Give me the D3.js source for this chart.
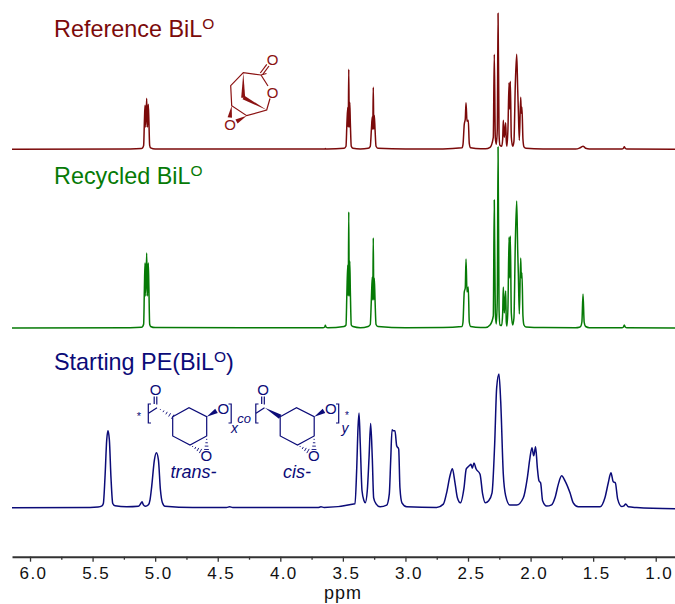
<!DOCTYPE html>
<html>
<head>
<meta charset="utf-8">
<script src="https://cdn.jsdelivr.net/npm/d3@7"></script>
<style>
    html, body { margin: 0; padding: 0; background: #fff; }
    svg { display: block; }
    text { font-family: "Liberation Sans", Arial, sans-serif; }
</style>
</head>
<body>
<div id="chart"></div>
<script>
// monomer spectra share one ppm grid, intensities
var monomerPpm = [6.144, 5.2, 5.11, 5.1, 5.092, 5.086, 5.081, 5.075, 5.068, 5.061, 5.055, 5.05, 5.044, 5.036, 5.0,
    3.66, 3.645, 3.64, 3.635, 3.62,
    3.49, 3.475, 3.468, 3.461, 3.457, 3.453, 3.449, 3.445, 3.44, 3.433, 3.42, 3.36,
    3.298, 3.281, 3.272, 3.265, 3.261, 3.257, 3.253, 3.249, 3.243, 3.235, 3.22, 3.0, 2.7,
    2.548, 2.54, 2.53, 2.522, 2.516, 2.508, 2.498, 2.49, 2.479, 2.4, 2.36,
    2.324, 2.298, 2.29, 2.282, 2.274, 2.266, 2.26, 2.252, 2.245, 2.231, 2.223, 2.218, 2.21, 2.199, 2.194, 2.189,
    2.181, 2.172, 2.167, 2.162, 2.154, 2.143, 2.133, 2.122, 2.111, 2.103, 2.098, 2.09, 2.079, 2.074, 2.069, 2.061,
    2.053, 2.037, 1.9, 1.64, 1.61, 1.6, 1.59, 1.581, 1.572, 1.56, 1.53,
    1.27, 1.258, 1.251, 1.244, 1.23, 0.846];

var referenceI = [0, 0.3, 0.7, 1.5, 4, 28, 44, 22, 51, 22, 45, 28, 4, 1.5, 0.4,
    0.2, 0.4, 0.7, 0.4, 0.2,
    1, 3, 25, 42, 22, 80, 22, 47, 25, 3, 1, 0.3,
    1, 3, 20, 32.6, 20, 62, 20, 34, 20, 3, 1, 0.3, 0.4,
    1.5, 5, 25, 30, 46.6, 28, 29, 6, 1.5, 0.5, 0.5,
    2, 12, 95, 12, 5, 20, 136, 15, 4, 3, 10, 29, 12, 26.6, 8, 3,
    20, 66.6, 40, 68, 12, 3, 8, 65, 95, 60, 40, 9, 52, 36, 42, 10,
    2.5, 1, 0.4, 0.3, 1.2, 1.8, 2.6, 3, 2.5, 1, 0.3,
    0.3, 1, 2.5, 1, 0.2, 0];

var recycledI = [0, 0.3, 0.7, 1.5, 4, 40, 65, 32, 75, 32, 65, 40, 4, 1.5, 0.4,
    0.2, 1, 2.8, 1, 0.2,
    1.5, 3, 35, 63, 32, 116, 32, 67, 35, 3, 1.5, 0.3,
    1.5, 3.5, 30, 51, 28, 90, 28, 50, 28, 3.5, 1.5, 0.3, 0.4,
    1.5, 6, 36, 40, 69, 36, 41, 6, 1.5, 0.5, 0.5,
    3, 12, 128, 15, 4, 30, 181, 18, 3, 2.5, 15, 41, 15, 37, 6, 2,
    20, 91, 50, 92, 15, 3, 10, 85, 127, 78, 55, 14, 70, 50, 55, 12,
    3, 1, 0.4, 0.3, 0.8, 1.5, 6, 34, 6, 1.5, 0.3,
    0.3, 1, 3, 1, 0.2, 0];

var polymerPpm = [6.144, 5.52, 5.457, 5.425, 5.414, 5.401, 5.387, 5.377, 5.366, 5.353, 5.339, 5.321, 5.227, 5.134,
    5.116, 5.105, 5.094, 5.078, 5.054, 5.041, 5.028, 5.006, 4.99, 4.974, 4.958, 4.942, 4.921, 4.7, 4.43, 4.405, 4.38,
    4.1, 3.7, 3.675, 3.65, 3.403, 3.39, 3.379, 3.371, 3.361, 3.347, 3.331, 3.321, 3.305, 3.291, 3.278, 3.265, 3.254,
    3.235, 3.203, 3.15, 3.129, 3.118, 3.107, 3.097, 3.084, 3.07, 3.054, 3.044, 3.028, 2.99, 2.751, 2.697, 2.671,
    2.644, 2.625, 2.604, 2.585, 2.561, 2.532, 2.514, 2.49, 2.476, 2.466, 2.452, 2.436, 2.404, 2.383, 2.362, 2.335,
    2.308, 2.287, 2.271, 2.253, 2.239, 2.218, 2.199, 2.165, 2.111, 2.058, 2.026, 2.005, 1.989, 1.975, 1.96, 1.946,
    1.933, 1.92, 1.904, 1.872, 1.832, 1.805, 1.778, 1.752, 1.725, 1.685, 1.659, 1.619, 1.445, 1.406, 1.379, 1.358,
    1.339, 1.323, 1.304, 1.272, 1.254, 1.24, 1.219, 1.153, 0.846];

var polymerI = [0, 0.3, 0.8, 2, 4.3, 30, 68, 77, 68, 30, 4.3, 2, 1, 1.5,
    4, 6, 3, 1.5, 3, 8, 21, 48, 55, 48, 18, 5, 1.5, 0.3, 0.3, 1, 0.3,
    0.3, 0.2, 1, 0.3, 4, 37, 80, 94.7, 64, 17, 7, 5, 17, 50, 84.3, 50, 10,
    4, 1, 2.7, 14, 47, 78, 77, 77, 62, 58.7, 20, 5, 1, 0.3, 3.7, 15,
    32, 39, 25, 10, 5, 20, 39, 42, 43.6, 39.6, 44.7, 39, 33.6, 13.6, 5, 7,
    15, 63.7, 120, 133.7, 107, 33.6, 12, 2.7, 2.7, 10, 30, 50, 60, 52, 61, 40,
    27, 25, 7, 1.7, 3, 10, 23.7, 32, 27, 15, 5, 1, 1, 10, 25, 35,
    26, 25, 8.7, 1.3, 2, 3.7, 1, 0.3, -1];

var majorTicks = [6, 5.5, 5, 4.5, 4, 3.5, 3, 2.5, 2, 1.5, 1];
var minorTicks = [5.75, 5.25, 4.75, 4.25, 3.75, 3.25, 2.75, 2.25, 1.75, 1.25];

var width = 675, height = 604;
var dark = "#7b0a0a", green = "#067a06", navy = "#0b0b78";

var svg = d3.select("#chart")
    .append("svg")
    .attr("width", width)
    .attr("height", height);

var x = d3.scaleLinear().domain([6.144, 0.846]).range([12, 675]);

var spectrum = function (ppm, vals, base, color) {
    var y = d3.scaleLinear().domain([0, 200]).range([base, base - 200]);
    var line = d3.line()
        .x(function (d, i) { return x(ppm[i]); })
        .y(function (d) { return y(d); })
        .curve(d3.curveMonotoneX);
    svg.append("path")
        .attr("d", line(vals))
        .attr("fill", "none")
        .attr("stroke", color)
        .attr("stroke-width", 1.5)
        .attr("stroke-linejoin", "round");
};

spectrum(polymerPpm, polymerI, 507.8, navy);
spectrum(monomerPpm, recycledI, 328, green);
spectrum(monomerPpm, referenceI, 149.3, dark);

// axis, minor ticks underneath
svg.append("g")
    .attr("transform", "translate(0,556.7)")
    .call(d3.axisBottom(x).tickValues(minorTicks).tickSize(3).tickFormat(""))
    .call(function (g) { g.selectAll("path").remove(); })
    .selectAll("line").attr("stroke", "#333").attr("stroke-width", 1.3);

var axis = svg.append("g")
    .attr("transform", "translate(0,556.7)")
    .call(d3.axisBottom(x).tickValues(majorTicks).tickSize(5).tickSizeOuter(0).tickPadding(5).tickFormat(d3.format(".1f")));
axis.select("path").attr("stroke", "#333").attr("stroke-width", 2);
axis.selectAll("line").attr("stroke", "#333").attr("stroke-width", 1.3);
axis.selectAll("text")
    .attr("dx", 3)
    .attr("fill", "#111")
    .style("font-size", "17px")
    .style("letter-spacing", "1.4px")
    .style("font-family", '"Liberation Sans", Arial, sans-serif');

svg.append("text")
    .attr("x", 343)
    .attr("y", 599)
    .attr("text-anchor", "middle")
    .attr("fill", "#111")
    .style("font-size", "18px")
    .style("letter-spacing", "1px")
    .text("ppm");

// spectrum labels
var label = function (txt, yPos, color, tail) {
    var t = svg.append("text")
        .attr("x", 54)
        .attr("y", yPos)
        .attr("fill", color)
        .style("font-size", "23.4px")
        .text(txt);
    t.append("tspan")
        .attr("dy", -8)
        .style("font-size", "15.5px")
        .text("O");
    if (tail) {
        t.append("tspan").attr("dy", 8).text(tail);
    }
};
label("Reference BiL", 37, dark);
label("Recycled BiL", 183.5, green);
label("Starting PE(BiL", 370, navy, ")");

// structures
var bond = function (color, pts, w) {
    svg.append("path")
        .attr("d", d3.line()(pts))
        .attr("fill", "none")
        .attr("stroke", color)
        .attr("stroke-width", w || 1.2);
};
var wedge = function (color, a, b, half) {
    var dx = b[0] - a[0], dy = b[1] - a[1], n = Math.sqrt(dx * dx + dy * dy);
    var ox = -dy / n * half, oy = dx / n * half;
    svg.append("path")
        .attr("d", d3.line()([a, [b[0] + ox, b[1] + oy], [b[0] - ox, b[1] - oy]]) + "Z")
        .attr("fill", color);
};
var hash = function (color, a, b, half, count) {
    var dx = b[0] - a[0], dy = b[1] - a[1], n = Math.sqrt(dx * dx + dy * dy);
    var ox = -dy / n, oy = dx / n;
    d3.range(1, count + 1).forEach(function (i) {
        var t = i / count, h = half * t;
        var px = a[0] + dx * t, py = a[1] + dy * t;
        bond(color, [[px + ox * h, py + oy * h], [px - ox * h, py - oy * h]], 0.9);
    });
};
var note = function (color, txt, px, py, size, italic) {
    svg.append("text")
        .attr("x", px)
        .attr("y", py)
        .attr("text-anchor", "middle")
        .attr("fill", color)
        .style("font-size", size + "px")
        .style("font-style", italic ? "italic" : "normal")
        .text(txt);
};

// BiL-O
var lc = "#8b1212";
bond(lc, [[266.5, 73.5], [261, 75], [243.3, 72.7], [230.7, 85.7], [231.7, 105.7], [246.7, 115.7], [266.7, 110], [270, 98.5]]);
bond(lc, [[261, 75], [268, 86]]);
bond(lc, [[260.3, 73], [266.8, 64.3]]);
bond(lc, [[262.6, 74.6], [269, 66]]);
wedge(lc, [243.3, 72.7], [243.2, 97.7], 2);
wedge(lc, [266.7, 110], [243.5, 97.5], 2);
wedge(lc, [231.7, 105.7], [229.8, 117.5], 2.2);
wedge(lc, [246.7, 115.7], [236.5, 121.5], 2.2);
note(lc, "O", 272.7, 64.5, 15);
note(lc, "O", 272.7, 97.5, 15);
note(lc, "O", 230, 129.5, 15);

// polymer, trans then cis unit
var unit = function (ox, cis) {
    var p = function (a, b) { return [a + ox, b]; };
    bond(navy, [p(172.7, 416.7), p(189, 407.7), p(206.7, 416.7), p(206.7, 436), p(190, 445), p(172.7, 436), p(172.7, 416.7)]);
    bond(navy, [p(154.2, 404), p(154.2, 396.5)]);
    bond(navy, [p(156.8, 404.5), p(156.8, 396.5)]);
    bond(navy, [p(148.5, 413.3), p(157, 407.7)]);
    if (cis) {
        wedge(navy, p(157.3, 407.7), p(172.7, 416.7), 2.4);
    } else {
        hash(navy, p(157.3, 407.7), p(172.7, 416.7), 2.4, 5);
    }
    wedge(navy, p(206.7, 416.7), p(216.5, 410.8), 2.5);
    hash(navy, p(206.7, 436), p(206.5, 449.5), 2.4, 4);
    hash(navy, p(190, 445), p(200.5, 451), 2.4, 4);
    bond(navy, [p(151, 404), p(148.3, 404), p(148.3, 423), p(151, 423)]);
    bond(navy, [p(228.5, 404), p(231.2, 404), p(231.2, 423), p(228.5, 423)]);
    note(navy, "O", 155.7 + ox, 395, 15);
    note(navy, "O", 223.3 + ox, 413.5, 15);
    note(navy, "O", 206.3 + ox, 461, 15);
};
unit(0, false);
unit(107.5, true);
note(navy, "*", 139, 420, 11);
note(navy, "*", 347, 418.5, 10);
note(navy, "co", 244, 422.5, 13, true);
note(navy, "x", 234.5, 433, 14, true);
note(navy, "y", 345, 433, 14, true);
note(navy, "trans-", 193.5, 478, 18, true);
note(navy, "cis-", 297, 478, 18, true);
</script>
</body>
</html>
